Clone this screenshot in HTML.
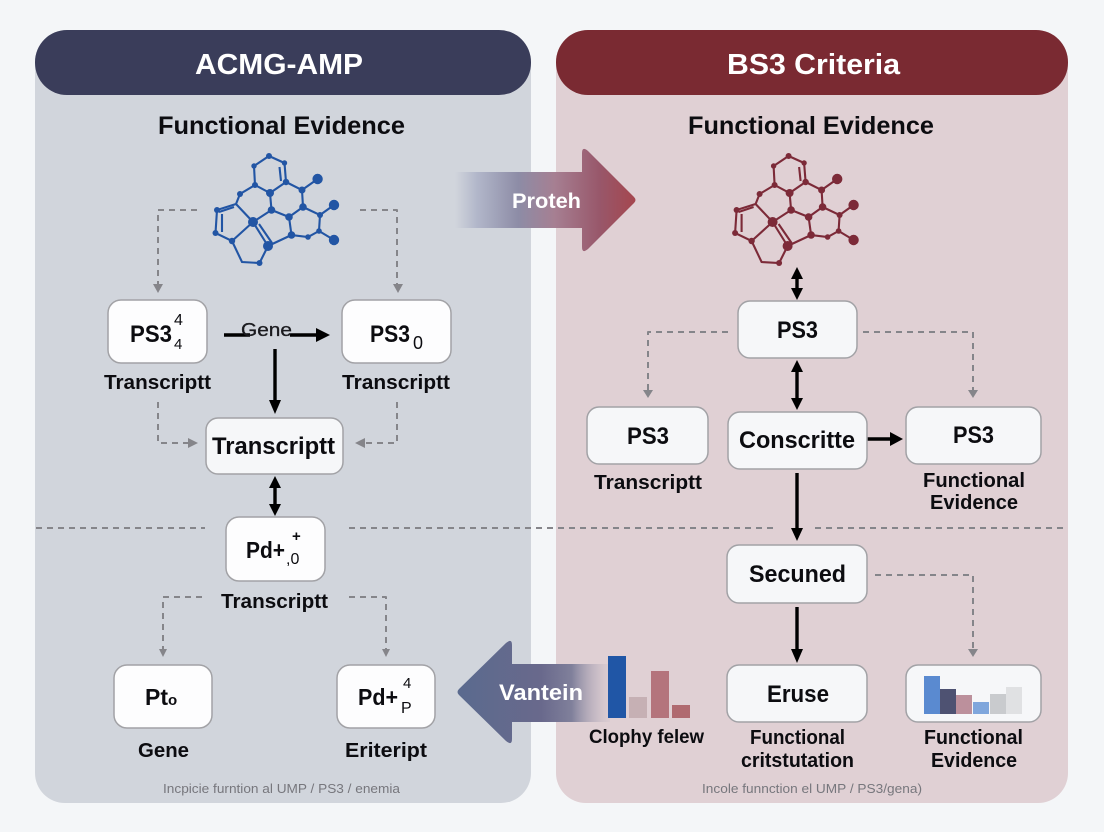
<!DOCTYPE html>
<html><head><meta charset="utf-8"><style>
html,body{margin:0;padding:0;background:#f4f6f8}
svg{display:block}
text{font-family:"Liberation Sans",sans-serif;font-weight:700;fill:#0c0c10}
.n{fill:#f6f7f9;stroke:#a2a2a6;stroke-width:1.5}
.w{fill:#fdfdfe;stroke:#a2a2a6;stroke-width:1.5}
.d{fill:none;stroke:#85858a;stroke-width:2;stroke-dasharray:6 5;stroke-linejoin:round}
.g{fill:#85858a}
.s{stroke:#000;stroke-width:3.4;fill:none}
.f{font-weight:400;fill:#77777d;font-size:12.5px}
.b{stroke-width:2.1;fill:none;stroke:currentColor}
</style></head><body>
<svg width="1104" height="832" viewBox="0 0 1104 832" xmlns="http://www.w3.org/2000/svg">
<defs>
<linearGradient id="a1" gradientUnits="userSpaceOnUse" x1="455" x2="636" y1="0" y2="0">
<stop offset="0" stop-color="#b4b9cb" stop-opacity="0"/><stop offset=".12" stop-color="#b2b7ca"/><stop offset=".35" stop-color="#8d8ca6"/><stop offset=".55" stop-color="#a67f92"/><stop offset=".8" stop-color="#98576a"/><stop offset="1" stop-color="#a5464e"/>
</linearGradient>
<linearGradient id="a2" gradientUnits="userSpaceOnUse" x1="457" x2="610" y1="0" y2="0">
<stop offset="0" stop-color="#5a6a8e"/><stop offset=".55" stop-color="#69698c"/><stop offset=".75" stop-color="#80809b"/><stop offset="1" stop-color="#c8bcc6" stop-opacity=".2"/>
</linearGradient>
<g id="mol">
<path class="b" d="M269 156L284.500 163L286 182L270 193L255 185L254 166Z M279.500 167L281 181 M255 185L240 194L236 204L217 210L215.500 233L232 241L253 222L236 204 M222 214L222 232 M219 212L234 207 M270 193L271.500 210L253 222 M286 182L302 190L303 207L289 217L271.500 210 M270 193L286 182 M303 207L320 215L319 231L308 237L291.500 235L289 217 M291.500 235L268 246 M253 222L268 246 M259 224L272 243 M232 241L242 262L259.500 263L268 246 M302 190L317.600 179 M320 215L334 205 M319 231L334 240"/>
<g fill="currentColor">
<circle cx="269" cy="156" r="3"/><circle cx="284.500" cy="163" r="2.700"/><circle cx="286" cy="182" r="3.200"/><circle cx="270" cy="193" r="4"/><circle cx="255" cy="185" r="3"/><circle cx="254" cy="166" r="2.700"/><circle cx="240" cy="194" r="3"/><circle cx="271.500" cy="210" r="3.800"/><circle cx="253" cy="222" r="5"/><circle cx="302" cy="190" r="3.500"/><circle cx="303" cy="207" r="3.800"/><circle cx="289" cy="217" r="3.800"/><circle cx="320" cy="215" r="3"/><circle cx="319" cy="231" r="2.800"/><circle cx="308" cy="237" r="2.800"/><circle cx="291.500" cy="235" r="3.800"/><circle cx="268" cy="246" r="5"/><circle cx="232" cy="241" r="3.200"/><circle cx="215.500" cy="233" r="3"/><circle cx="217" cy="210" r="3"/><circle cx="259.500" cy="263" r="3"/><circle cx="317.600" cy="179" r="5.200"/><circle cx="334" cy="205" r="5.200"/><circle cx="334" cy="240" r="5.200"/>
</g>
</g>
</defs>

<rect width="1104" height="832" fill="#f4f6f8"/>
<rect x="35" y="40" width="496" height="763" rx="30" fill="#d1d5dc"/>
<rect x="556" y="40" width="512" height="763" rx="30" fill="#e0d0d4"/>
<rect x="35" y="30" width="496" height="65" rx="32" fill="#3a3d5a"/>
<rect x="556" y="30" width="512" height="65" rx="32" fill="#7a2a32"/>
<text x="195" y="74" font-size="29" textLength="168" lengthAdjust="spacingAndGlyphs" style="fill:#fff">ACMG-AMP</text>
<text x="727" y="74" font-size="29" textLength="173" lengthAdjust="spacingAndGlyphs" style="fill:#fff">BS3 Criteria</text>
<text x="158" y="134" font-size="25" textLength="247" lengthAdjust="spacingAndGlyphs">Functional Evidence</text>
<text x="688" y="134" font-size="25" textLength="246" lengthAdjust="spacingAndGlyphs">Functional Evidence</text>

<use href="#mol" style="color:#2255a4"/>
<use href="#mol" x="519.600" style="color:#7c2a38"/>

<!-- divider -->
<path d="M36 528H205M349 528H778M815 528H1065" fill="none" stroke="#85858a" stroke-width="2" stroke-dasharray="6 5"/>

<!-- big arrows -->
<path d="M455 172H582V153Q582 146 588 151L634 197Q637 200 634 203L588 249Q582 254 582 247V228H455Z" fill="url(#a1)"/>
<text x="512" y="208" font-size="21" textLength="69" lengthAdjust="spacingAndGlyphs" style="fill:#fff">Proteh</text>
<path d="M610 664H512V645Q512 638 506 643L459 689Q456 692 459 695L506 741Q512 746 512 739V722H610Z" fill="url(#a2)"/>
<text x="499" y="700" font-size="22" textLength="84" lengthAdjust="spacingAndGlyphs" style="fill:#fff">Vantein</text>

<!-- left dashed -->
<path class="d" d="M197 210H158V284"/><polygon class="g" points="153,284 163,284 158,293"/>
<path class="d" d="M360 210H397V284"/><polygon class="g" points="393,284 403,284 398,293"/>
<path class="d" d="M158 402V443H188"/><polygon class="g" points="188,438 188,448 198,443"/>
<path class="d" d="M397 402V443H365"/><polygon class="g" points="365,438 365,448 355,443"/>
<path class="d" d="M202 597H163V649"/><polygon class="g" points="159,649 167,649 163,657"/>
<path class="d" d="M349 597H386V649"/><polygon class="g" points="382,649 390,649 386,657"/>
<!-- right dashed -->
<path class="d" d="M728 332H648V390"/><polygon class="g" points="643,390 653,390 648,398"/>
<path class="d" d="M863 332H973V390"/><polygon class="g" points="968,390 978,390 973,398"/>
<path class="d" d="M875 575H973V649"/><polygon class="g" points="968,649 978,649 973,657"/>

<!-- solid arrows -->
<path class="s" d="M224 335H250M290 335H318"/><polygon points="316,328 330,335 316,342"/>
<path class="s" d="M275 349V402"/><polygon points="269,400 281,400 275,414"/>
<path class="s" d="M275 484V508"/><polygon points="275,476 269,488 281,488"/><polygon points="275,516 269,504 281,504"/>
<path class="s" d="M797 275V292"/><polygon points="797,267 791,279 803,279"/><polygon points="797,300 791,288 803,288"/>
<path class="s" d="M797 368V402"/><polygon points="797,360 791,372 803,372"/><polygon points="797,410 791,398 803,398"/>
<path class="s" d="M867 439H892"/><polygon points="890,432 903,439 890,446"/>
<path class="s" d="M797 473V530"/><polygon points="791,528 803,528 797,541"/>
<path class="s" d="M797 607V650"/><polygon points="791,649 803,649 797,663"/>

<text x="241" y="336" font-size="18" textLength="51" lengthAdjust="spacingAndGlyphs" style="font-weight:400;fill:#1a1a1e;stroke:#1a1a1e;stroke-width:.3">Gene</text>

<!-- left nodes -->
<rect class="w" x="108" y="300" width="99" height="63" rx="13"/>
<text x="130" y="342" font-size="24" textLength="42" lengthAdjust="spacingAndGlyphs">PS3</text>
<text x="174" y="325" font-size="16" style="font-weight:400">4</text>
<text x="174" y="349" font-size="15" style="font-weight:400">4</text>
<rect class="w" x="342" y="300" width="109" height="63" rx="13"/>
<text x="370" y="342" font-size="24" textLength="40" lengthAdjust="spacingAndGlyphs">PS3</text>
<text x="413" y="349" font-size="18" style="font-weight:400">0</text>
<text x="104" y="389" font-size="20" textLength="107" lengthAdjust="spacingAndGlyphs">Transcriptt</text>
<text x="342" y="389" font-size="20" textLength="108" lengthAdjust="spacingAndGlyphs">Transcriptt</text>
<rect class="n" x="206" y="418" width="137" height="56" rx="12"/>
<text x="212" y="454" font-size="24" textLength="123" lengthAdjust="spacingAndGlyphs">Transcriptt</text>
<rect class="w" x="226" y="517" width="99" height="64" rx="13"/>
<text x="246" y="558" font-size="23" textLength="39" lengthAdjust="spacingAndGlyphs">Pd+</text>
<text x="286" y="564" font-size="16" style="font-weight:400">,0</text>
<text x="292" y="541" font-size="15" style="font-weight:700">+</text>
<text x="221" y="608" font-size="20" textLength="107" lengthAdjust="spacingAndGlyphs">Transcriptt</text>
<rect class="w" x="114" y="665" width="98" height="63" rx="13"/>
<text x="145" y="705" font-size="23">Pt<tspan font-size="15">o</tspan></text>
<rect class="w" x="337" y="665" width="98" height="63" rx="13"/>
<text x="358" y="705" font-size="23" textLength="40" lengthAdjust="spacingAndGlyphs">Pd+</text>
<text x="403" y="688" font-size="15" style="font-weight:400">4</text>
<text x="401" y="713" font-size="16" style="font-weight:400">P</text>
<text x="138" y="757" font-size="20" textLength="51" lengthAdjust="spacingAndGlyphs">Gene</text>
<text x="345" y="757" font-size="20" textLength="82" lengthAdjust="spacingAndGlyphs">Eriteript</text>
<text x="163" y="793" class="f" textLength="237" lengthAdjust="spacingAndGlyphs">Incpicie furntion al UMP / PS3 / enemia</text>

<!-- right nodes -->
<rect class="n" x="738" y="301" width="119" height="57" rx="12"/>
<text x="777" y="338" font-size="24" textLength="41" lengthAdjust="spacingAndGlyphs">PS3</text>
<rect class="n" x="587" y="407" width="121" height="57" rx="12"/>
<text x="627" y="444" font-size="24" textLength="42" lengthAdjust="spacingAndGlyphs">PS3</text>
<rect class="n" x="728" y="412" width="139" height="57" rx="12"/>
<text x="739" y="448" font-size="24" textLength="116" lengthAdjust="spacingAndGlyphs">Conscritte</text>
<rect class="n" x="906" y="407" width="135" height="57" rx="12"/>
<text x="953" y="443" font-size="24" textLength="41" lengthAdjust="spacingAndGlyphs">PS3</text>
<text x="594" y="489" font-size="20" textLength="108" lengthAdjust="spacingAndGlyphs">Transcriptt</text>
<text x="923" y="487" font-size="20" textLength="102" lengthAdjust="spacingAndGlyphs">Functional</text>
<text x="930" y="509" font-size="20" textLength="88" lengthAdjust="spacingAndGlyphs">Evidence</text>
<rect class="n" x="727" y="545" width="140" height="58" rx="12"/>
<text x="749" y="582" font-size="24" textLength="97" lengthAdjust="spacingAndGlyphs">Secuned</text>
<rect class="n" x="727" y="665" width="140" height="57" rx="12"/>
<text x="767" y="702" font-size="24" textLength="62" lengthAdjust="spacingAndGlyphs">Eruse</text>
<rect class="n" x="906" y="665" width="135" height="57" rx="12"/>
<rect x="924" y="676" width="16" height="38" fill="#5a8ad0"/>
<rect x="940" y="689" width="16" height="25" fill="#4e5272"/>
<rect x="956" y="695" width="16" height="19" fill="#bc909c"/>
<rect x="973" y="702" width="16" height="12" fill="#7fa6dc"/>
<rect x="990" y="694" width="16" height="20" fill="#c9cbce"/>
<rect x="1006" y="687" width="16" height="27" fill="#e0e1e3"/>
<rect x="608" y="656" width="18" height="62" fill="#2056a6"/>
<rect x="629" y="697" width="18" height="21" fill="#c6b0b4"/>
<rect x="651" y="671" width="18" height="47" fill="#b4747c"/>
<rect x="672" y="705" width="18" height="13" fill="#b06a70"/>
<text x="589" y="743" font-size="19" textLength="115" lengthAdjust="spacingAndGlyphs">Clophy felew</text>
<text x="750" y="744" font-size="20" textLength="95" lengthAdjust="spacingAndGlyphs">Functional</text>
<text x="741" y="767" font-size="20" textLength="113" lengthAdjust="spacingAndGlyphs">critstutation</text>
<text x="924" y="744" font-size="20" textLength="99" lengthAdjust="spacingAndGlyphs">Functional</text>
<text x="931" y="767" font-size="20" textLength="86" lengthAdjust="spacingAndGlyphs">Evidence</text>
<text x="702" y="793" class="f" textLength="220" lengthAdjust="spacingAndGlyphs">Incole funnction el UMP / PS3/gena)</text>
</svg>
</body></html>
